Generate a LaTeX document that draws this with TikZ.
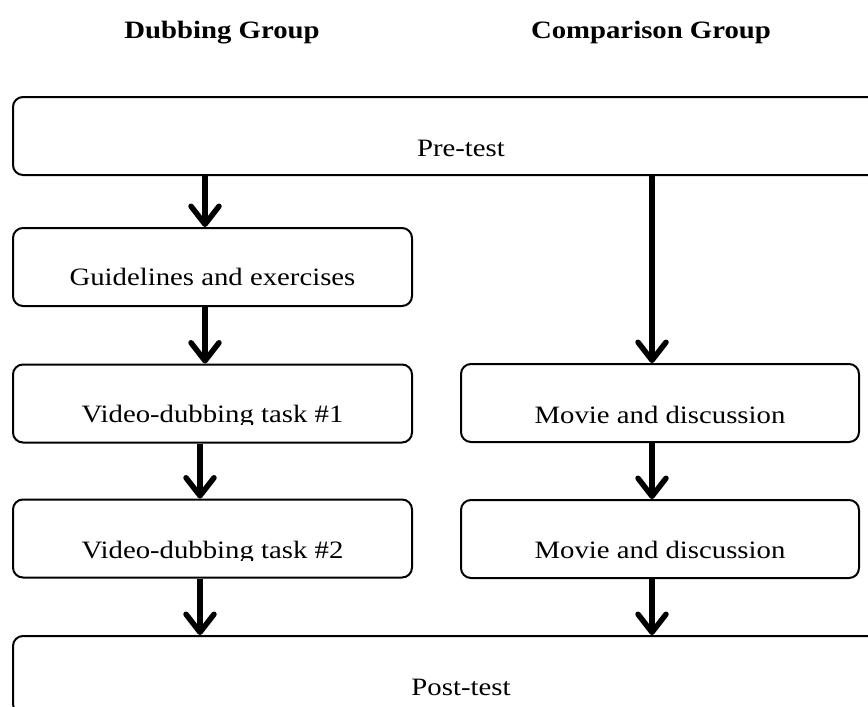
\documentclass[tikz,border=0pt]{standalone}
\usepackage{fontspec}
\setmainfont{Liberation Serif}[FakeStretch=1.15]
\usetikzlibrary{arrows.meta}

\tikzset{
  stagebox/.style={draw=black, line width=2pt, rounded corners=10pt, fill=white,
    inner sep=0pt, minimum height=78pt},
  lbl/.style={inner sep=0pt, anchor=base, font=\fontsize{25}{30}\selectfont},
  head/.style={inner sep=0pt, anchor=base, font=\fontsize{25}{30}\selectfont\bfseries},
  flow/.style={line width=5.5pt, draw=black,
    -{Straight Barb[length=18pt,width=28pt,round]}}
}

\begin{document}
\begin{tikzpicture}[x=1pt,y=-1pt]
  \path[use as bounding box, fill=white] (0,0) rectangle (868,707);
  \clip (0,0) rectangle (868,707);

  % column lines for the connectors
  \coordinate (colA) at (205,0);
  \coordinate (colB) at (200,0);
  \coordinate (colC) at (652,0);

  % headings
  \node[head] (hdub) at (222,38) {Dubbing Group};
  \node[head] (hcmp) at (651,38) {Comparison Group};

  % stage boxes
  \node[stagebox, minimum width=896pt] (pre)  at (461,136)   {};
  \node[stagebox, minimum width=399pt] (gl)   at (212.5,267) {};
  \node[stagebox, minimum width=399pt] (v1)   at (212.5,403.5) {};
  \node[stagebox, minimum width=399pt] (v2)   at (212.5,538.5) {};
  \node[stagebox, minimum width=398pt] (m1)   at (660,403)   {};
  \node[stagebox, minimum width=398pt] (m2)   at (660,539)   {};
  \node[stagebox, minimum width=896pt] (post) at (461,675)   {};

  % box texts
  \node[lbl] (tpre)  at (461,156)   {Pre-test};
  \node[lbl] (tgl)   at (212.5,285) {Guidelines and exercises};
  \begin{scope}
    \clip (13,380) rectangle (412,424.5);
    \node[lbl] (tv1) at (212.5,422) {Video-dubbing task \#1};
  \end{scope}
  \begin{scope}
    \clip (13,515) rectangle (412,560);
    \node[lbl] (tv2) at (212.5,558) {Video-dubbing task \#2};
  \end{scope}
  \node[lbl] (tm1)   at (660,423)   {Movie and discussion};
  \node[lbl] (tm2)   at (660,558)   {Movie and discussion};
  \node[lbl] (tpost) at (461,695)   {Post-test};

  % connectors
  \draw[flow] (pre.south -| colA) -- (gl.north -| colA);
  \draw[flow] (gl.south -| colA)  -- (v1.north -| colA);
  \draw[flow] (v1.south -| colB)  -- (v2.north -| colB);
  \draw[flow] (v2.south -| colB)  -- (post.north -| colB);
  \draw[flow] (pre.south -| colC) -- (m1.north -| colC);
  \draw[flow] (m1.south -| colC)  -- (m2.north -| colC);
  \draw[flow] (m2.south -| colC)  -- (post.north -| colC);
\end{tikzpicture}
\end{document}
